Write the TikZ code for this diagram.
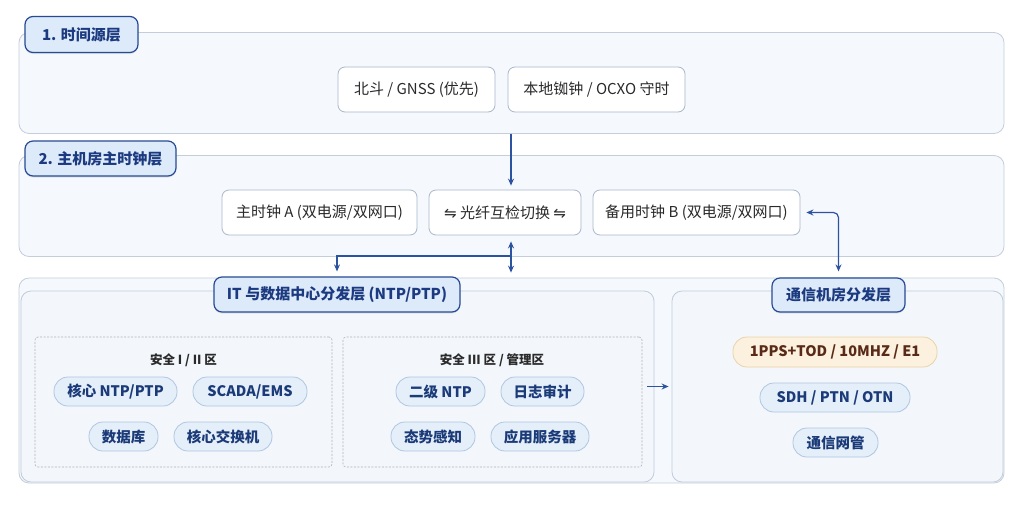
\documentclass[tikz,border=0pt]{standalone}
\usepackage{fontspec}
\setmainfont{Noto Sans CJK SC}
\newfontfamily\symfont{DejaVu Sans}
\usetikzlibrary{arrows.meta,shadows,calc}
\definecolor{layerfill}{HTML}{F5F8FC}
\definecolor{layerline}{HTML}{C4CEDB}
\definecolor{panelfill}{HTML}{F3F7FC}
\definecolor{panelline}{HTML}{C0CCDA}
\definecolor{tabfill}{HTML}{DCEAF9}
\definecolor{tabline}{HTML}{274B93}
\definecolor{tabtext}{HTML}{1C3A80}
\definecolor{wline}{HTML}{A9B8CC}
\definecolor{darktext}{HTML}{2A2A2A}
\definecolor{pillfill}{HTML}{E5EFFA}
\definecolor{pillline}{HTML}{AFC6E2}
\definecolor{pilltext}{HTML}{1B3A78}
\definecolor{creamfill}{HTML}{FBF1DE}
\definecolor{creamline}{HTML}{EAD3A6}
\definecolor{creamtext}{HTML}{5A2A18}
\definecolor{zoneline}{HTML}{AEB3BA}
\definecolor{arrowc}{HTML}{2B53A0}
\begin{document}
\begin{tikzpicture}[x=1pt,y=-1pt,
  layer/.style={draw=layerline, fill=layerfill, rounded corners=10pt, line width=0.8pt, inner sep=0pt},
  panel/.style={draw=panelline, fill=panelfill, rounded corners=10pt, line width=0.8pt, inner sep=0pt},
  tab/.style={draw=tabline, fill=tabfill, rounded corners=8pt, line width=1.2pt, text=tabtext,
     font=\bfseries\fontsize{15}{18}\selectfont, inner sep=0pt,
     drop shadow={shadow xshift=0pt, shadow yshift=-1.5pt, opacity=0.18}},
  wbox/.style={draw=wline, fill=white, rounded corners=7pt, line width=0.8pt, text=darktext,
     font=\fontsize{15}{18}\selectfont, minimum height=45pt, inner sep=0pt},
  pill/.style={draw=pillline, fill=pillfill, rounded corners=14pt, line width=0.8pt, text=pilltext,
     font=\bfseries\fontsize{14.5}{17}\selectfont, minimum height=29pt, inner sep=0pt},
  cream/.style={pill, draw=creamline, fill=creamfill, text=creamtext},
  zone/.style={draw=zoneline, dash pattern=on 2pt off 1.5pt, line width=0.6pt, rounded corners=3pt, inner sep=0pt},
  zonetitle/.style={text=darktext, font=\bfseries\fontsize{12.5}{15}\selectfont, inner sep=0pt},
  arr/.style={draw=arrowc, line width=1.2pt, -{Stealth[length=7pt,width=6pt]}},
  darr/.style={draw=arrowc, line width=1.2pt, {Stealth[length=7pt,width=6pt]}-{Stealth[length=7pt,width=6pt]}}
]
\useasboundingbox (0,0) rectangle (1024,512);
\fill[white] (0,0) rectangle (1024,512);

% ---- Layer 1
\node[layer, minimum width=985pt, minimum height=101pt] (L1) at (511.5,83) {};
\node[tab, minimum width=113pt, minimum height=36pt] (T1) at (81.5,34.5) {1. 时间源层};
\node[wbox, minimum width=157pt] (G1) at (416.5,89.5) {北斗 / GNSS (优先)};
\node[wbox, minimum width=177pt] (G2) at (596.5,89.5) {本地铷钟 / OCXO 守时};

% ---- Layer 2
\node[layer, minimum width=985pt, minimum height=101pt] (L2) at (511.5,206) {};
\node[tab, minimum width=151pt, minimum height=35pt] (T2) at (100.5,158.5) {2. 主机房主时钟层};
\node[wbox, minimum width=195pt] (A) at (319.5,212.5) {主时钟 A (双电源/双网口)};
\node[wbox, minimum width=152pt] (F) at (505,212.5) {{\symfont ⇋} 光纤互检切换 {\symfont ⇋}};
\node[wbox, minimum width=207pt] (B) at (696.5,212.5) {备用时钟 B (双电源/双网口)};

% ---- Layer 3
\node[layer, minimum width=985pt, minimum height=205pt] (L3) at (511.5,380.5) {};
\node[panel, minimum width=633pt, minimum height=191pt] (ITP) at (337.5,386.5) {};
\node[panel, minimum width=331pt, minimum height=191pt] (CP) at (837.5,386.5) {};
\node[tab, minimum width=246pt, minimum height=35pt] (ITL) at (337,294.5) {IT 与数据中心分发层 (NTP/PTP)};
\node[tab, minimum width=133pt, minimum height=34pt] (CL) at (838.5,295) {通信机房分发层};

\node[zone, minimum width=297pt, minimum height=130pt] (Z1) at (183.5,402) {};
\node[zone, minimum width=299pt, minimum height=130pt] (Z2) at (492.5,402) {};
\node[zonetitle] (Z1t) at (183.5,360) {安全 I / II 区};
\node[zonetitle] (Z2t) at (492,360) {安全 III 区 / 管理区};

\node[pill, minimum width=123pt] (P1) at (115.5,391.5) {核心 NTP/PTP};
\node[pill, minimum width=114pt] (P2) at (250,391.5) {SCADA/EMS};
\node[pill, minimum width=69pt] (P3) at (123.5,436.5) {数据库};
\node[pill, minimum width=98pt] (P4) at (223,436.5) {核心交换机};
\node[pill, minimum width=89pt] (P5) at (440.5,391.5) {二级 NTP};
\node[pill, minimum width=83pt] (P6) at (542.5,391.5) {日志审计};
\node[pill, minimum width=84pt] (P7) at (433,436.5) {态势感知};
\node[pill, minimum width=98pt] (P8) at (540,436.5) {应用服务器};

\node[cream, minimum width=204pt, minimum height=30pt] (C1) at (835,352) {1PPS+TOD / 10MHZ / E1};
\node[pill, minimum width=150pt] (C2) at (835,397.5) {SDH / PTN / OTN};
\node[pill, minimum width=85pt] (C3) at (835.5,442.5) {通信网管};

% ---- Connectors
\coordinate (fx) at (511,0);
\coordinate (j) at (511,256);
\draw[arr, shorten >=4pt] (L1.south -| fx) -- (F.north -| fx);
\draw[darr, shorten <=6pt, shorten >=5pt] (F.south -| fx) -- (L3.north -| fx);
\draw[arr, shorten >=5pt] (j) -| (ITL.north);
\draw[darr, rounded corners=5pt, shorten <=6pt, shorten >=6pt] (B.east) -| (CL.north);
\draw[arr, shorten >=3pt] ([xshift=-7pt]ITP.east) -- (CP.west);
\end{tikzpicture}
\end{document}
